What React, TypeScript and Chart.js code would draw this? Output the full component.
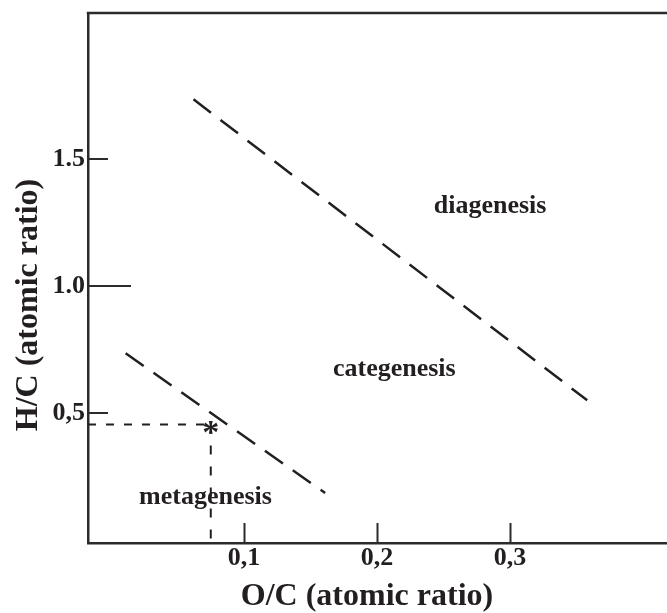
import React, { useEffect, useRef } from 'react';
import { Chart, registerables } from 'chart.js';

Chart.register(...registerables);

// ---- data ----
const X_TICKS = [0.1, 0.2, 0.3];
const X_TICK_LABELS = ['0,1', '0,2', '0,3'];
const Y_TICKS = [0.5, 1.0, 1.5];
const Y_TICK_LABELS = ['0,5', '1.0', '1.5'];
const X_RANGE = [-0.0173, 0.418];
const Y_RANGE = [-0.012, 2.075];

// diagenesis / categenesis boundary (O/C, H/C)
const DIAG_BOUNDARY_OC = [0.062, 0.358];
const DIAG_BOUNDARY_HC = [1.735, 0.55];
// categenesis / metagenesis boundary
const META_BOUNDARY_OC = [0.011, 0.161];
const META_BOUNDARY_HC = [0.735, 0.185];
// sample point
const SAMPLE_OC = 0.075;
const SAMPLE_HC = 0.455;

const ZONE_NAMES = ['diagenesis', 'categenesis', 'metagenesis'];
const ZONE_OC = [0.285, 0.213, 0.071];
const ZONE_HC = [1.287, 0.646, 0.142];

const X_TITLE = 'O/C (atomic ratio)';
const Y_TITLE = 'H/C (atomic ratio)';

// ---- styles ----
const INK = '#231f20';
const FRAME = '#2b2b2b';
const SERIF = "'Liberation Serif', 'Times New Roman', serif";
const Y_TICK_LEN = [20, 43, 20];
const X_TICK_LEN = 20;

const decor = {
  id: 'decor',
  afterDatasetsDraw(chart: any) {
    const { ctx, chartArea: a, scales } = chart;
    const x = scales.x;
    const y = scales.y;
    ctx.save();
    ctx.strokeStyle = FRAME;
    ctx.lineWidth = 2.5;
    ctx.beginPath();
    ctx.moveTo(a.left - 1.25, a.top);
    ctx.lineTo(a.right, a.top);
    ctx.stroke();

    ctx.lineWidth = 2;
    X_TICKS.forEach((v) => {
      const px = Math.round(x.getPixelForValue(v)) + 0.5;
      ctx.beginPath();
      ctx.moveTo(px, a.bottom);
      ctx.lineTo(px, a.bottom - X_TICK_LEN);
      ctx.stroke();
    });
    Y_TICKS.forEach((v, i) => {
      const py = Math.round(y.getPixelForValue(v));
      ctx.beginPath();
      ctx.moveTo(a.left, py);
      ctx.lineTo(a.left + Y_TICK_LEN[i], py);
      ctx.stroke();
    });

    ctx.fillStyle = INK;
    ctx.textAlign = 'center';
    ctx.textBaseline = 'alphabetic';
    ctx.font = `bold 26px ${SERIF}`;
    ZONE_NAMES.forEach((n, i) => {
      ctx.fillText(n, x.getPixelForValue(ZONE_OC[i]), y.getPixelForValue(ZONE_HC[i]));
    });

    const pt = chart.getDatasetMeta(4).data[0];
    if (pt) {
      ctx.font = `bold 34px ${SERIF}`;
      ctx.fillText('*', pt.x, pt.y + 19);
    }

    ctx.font = `bold 32px ${SERIF}`;
    ctx.fillText(X_TITLE, 367, 605);
    ctx.save();
    ctx.translate(36.5, 305);
    ctx.rotate(-Math.PI / 2);
    ctx.fillText(Y_TITLE, 0, 0);
    ctx.restore();
    ctx.restore();
  },
};

export default function App() {
  const ref = useRef<HTMLCanvasElement>(null);
  useEffect(() => {
    const line = (xs: number[], ys: number[]) => xs.map((v, i) => ({ x: v, y: ys[i] }));
    const chart = new Chart(ref.current as HTMLCanvasElement, {
      type: 'scatter',
      data: {
        datasets: [
          {
            data: line(DIAG_BOUNDARY_OC, DIAG_BOUNDARY_HC),
            showLine: true,
            borderColor: INK,
            borderWidth: 2.5,
            borderDash: [22, 12],
            pointRadius: 0,
          },
          {
            data: line(META_BOUNDARY_OC, META_BOUNDARY_HC),
            showLine: true,
            borderColor: INK,
            borderWidth: 2.5,
            borderDash: [22, 12],
            pointRadius: 0,
          },
          {
            data: line([X_RANGE[0], SAMPLE_OC], [SAMPLE_HC, SAMPLE_HC]),
            showLine: true,
            borderColor: INK,
            borderWidth: 2,
            borderDash: [8, 10],
            pointRadius: 0,
          },
          {
            data: line([SAMPLE_OC, SAMPLE_OC], [SAMPLE_HC, Y_RANGE[0]]),
            showLine: true,
            borderColor: INK,
            borderWidth: 2,
            borderDash: [9, 12],
            pointRadius: 0,
          },
          {
            data: [{ x: SAMPLE_OC, y: SAMPLE_HC }],
            showLine: false,
            pointRadius: 0,
          },
        ],
      },
      options: {
        responsive: false,
        animation: false,
        layout: { padding: { top: 13, left: 0, right: 0, bottom: 0 } },
        plugins: { legend: { display: false }, tooltip: { enabled: false } },
        scales: {
          x: {
            type: 'linear',
            min: X_RANGE[0],
            max: X_RANGE[1],
            afterBuildTicks: (s: any) => {
              s.ticks = X_TICKS.map((v) => ({ value: v }));
            },
            afterFit: (s: any) => {
              s.height = 70;
              s.paddingLeft = 0;
              s.paddingRight = 0;
            },
            ticks: {
              autoSkip: false,
              maxRotation: 0,
              padding: 0,
              color: INK,
              font: { family: SERIF, weight: 'bold', size: 26 },
              callback: (v: any) => X_TICK_LABELS[X_TICKS.indexOf(Number(v))] ?? '',
            },
            grid: { display: false, drawTicks: false },
            border: { display: true, color: FRAME, width: 2.5 },
          },
          y: {
            type: 'linear',
            min: Y_RANGE[0],
            max: Y_RANGE[1],
            afterBuildTicks: (s: any) => {
              s.ticks = Y_TICKS.map((v) => ({ value: v }));
            },
            afterFit: (s: any) => {
              s.width = 88;
              s.paddingTop = 0;
              s.paddingBottom = 0;
            },
            ticks: {
              autoSkip: false,
              padding: 3,
              color: INK,
              font: { family: SERIF, weight: 'bold', size: 26 },
              callback: (v: any) => Y_TICK_LABELS[Y_TICKS.indexOf(Number(v))] ?? '',
            },
            grid: { display: false, drawTicks: false },
            border: { display: true, color: FRAME, width: 2.5 },
          },
        },
      } as any,
      plugins: [decor],
    });
    return () => chart.destroy();
  }, []);
  return (
    <div style={{ position: 'absolute', left: 0, top: 0, width: 667, height: 613, background: '#fff' }}>
      <canvas ref={ref} width={667} height={613} style={{ display: 'block', width: 667, height: 613 }} />
    </div>
  );
}
